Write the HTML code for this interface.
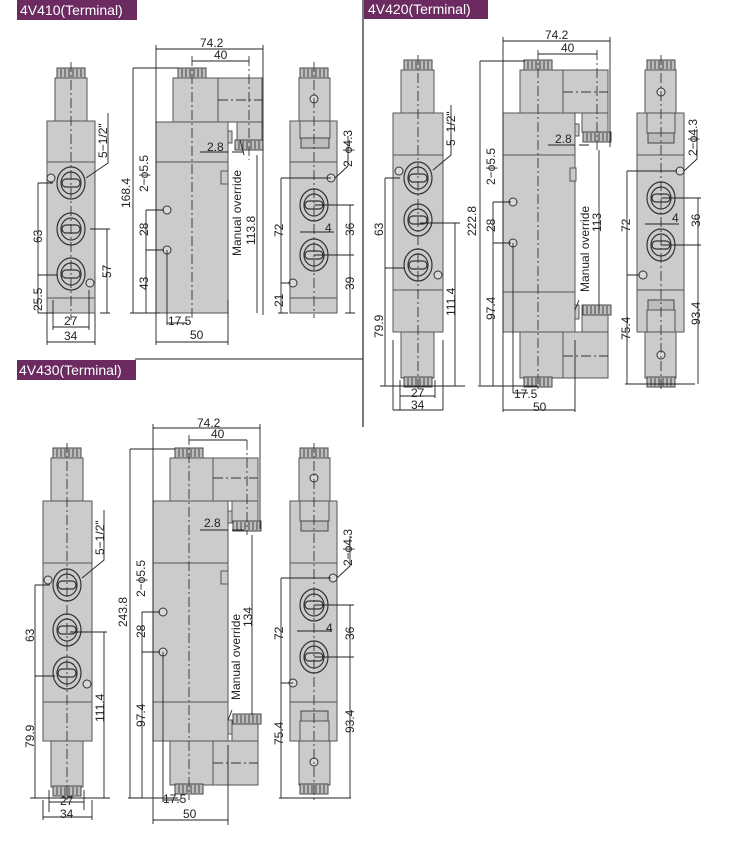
<!DOCTYPE html>
<html><head><meta charset="utf-8"><style>
body{margin:0;background:#fff}
svg{display:block}
.b{fill:#cbcbcb;stroke:#555;stroke-width:1}
.k{fill:#bdbdbd;stroke:#444;stroke-width:1}
.l{stroke:#222;stroke-width:0.9;fill:none}
.c{stroke:#333;stroke-width:0.9;fill:none;stroke-dasharray:10 3 2 3}
.p{fill:none;stroke:#333;stroke-width:1.2}
.h{fill:#d8d8d8;stroke:#333;stroke-width:1}
text{font-family:"Liberation Sans",sans-serif;font-size:12px;fill:#222}
.t{font-size:14px;fill:#fff}
</style></head><body>
<svg width="732" height="847" viewBox="0 0 732 847" xmlns="http://www.w3.org/2000/svg">
<defs>
<g id="port"><ellipse cx="0" cy="0" rx="14" ry="16" class="p"/><ellipse cx="0" cy="0" rx="10" ry="11" class="p"/><rect x="-9" y="-4" width="18" height="8" rx="4" class="p"/></g>
<g id="cap"><rect x="-14" y="0" width="28" height="10" class="k"/><path d="M-10 1v8M-6 1v8M-2 1v8M2 1v8M6 1v8M10 1v8" stroke="#444" stroke-width="1"/></g>
<g id="hole"><circle r="4" class="h"/></g>
</defs>

<!-- frame lines -->
<line x1="363" y1="0" x2="363" y2="427" stroke="#222" stroke-width="1.2"/>
<line x1="135" y1="359" x2="363" y2="359" stroke="#222" stroke-width="1"/>

<!-- titles -->
<rect x="17" y="0" width="120" height="20" fill="#6b2b61"/><text x="20" y="15" class="t">4V410(Terminal)</text>
<rect x="364" y="0" width="124" height="19" fill="#6b2b61"/><text x="368" y="14" class="t">4V420(Terminal)</text>
<rect x="17" y="360" width="119" height="20" fill="#6b2b61"/><text x="19" y="375" class="t">4V430(Terminal)</text>

<!-- ===== 4V410 ===== -->
<!-- left view -->
<use href="#cap" x="71" y="68"/>
<rect x="55" y="78" width="32" height="43" class="b"/>
<rect x="47" y="121" width="48" height="192" class="b"/>
<line x1="47" y1="162" x2="95" y2="162" stroke="#555"/>
<line x1="47" y1="298" x2="95" y2="298" stroke="#555"/>
<line x1="71" y1="62" x2="71" y2="320" class="c"/>
<use href="#port" x="71" y="183"/><use href="#port" x="71" y="229"/><use href="#port" x="71" y="274"/>
<use href="#hole" x="51" y="178"/><use href="#hole" x="90" y="283"/>
<path class="l" d="M38 183h15M38 313h15M38 275h20M38 183v130M107 229v84M90 229h20M100 313h10M53 300v30M89 290v40M47 313v32M95 313v32M53 327h36M47 342h48M86 178l22-15v-50"/>
<text transform="translate(42,243) rotate(-90)">63</text>
<text transform="translate(42,311) rotate(-90)">25.5</text>
<text transform="translate(111,278) rotate(-90)">57</text>
<text transform="translate(107,158) rotate(-90)">5−1/2"</text>
<text x="64" y="325">27</text><text x="64" y="340">34</text>

<!-- middle view -->
<use href="#cap" x="192" y="68"/>
<rect x="173" y="78" width="45" height="44" class="b"/>
<rect x="218" y="78" width="44" height="44" class="b"/>
<rect x="237" y="122" width="25" height="18" class="b"/>
<use href="#cap" x="249" y="140"/>
<rect x="156" y="122" width="72" height="191" class="b"/>
<line x1="156" y1="162" x2="228" y2="162" stroke="#555"/>
<rect x="228" y="131" width="4" height="12" class="b"/>
<rect x="221" y="171" width="7" height="13" class="b"/>
<line x1="192" y1="56" x2="192" y2="320" class="c"/>
<line x1="249" y1="56" x2="249" y2="160" class="c"/>
<line x1="218" y1="100" x2="262" y2="100" class="c"/>
<use href="#hole" x="167" y="210"/><use href="#hole" x="167" y="250"/>
<path class="l" d="M156 45v300M263 45v270M156 49h107M192 61h57M133 68v245M133 68h45M130 313h30M146 210h18M146 250h18M146 210v103M167 250v75M167 323h20M228 300v45M156 342h72M200 152h28M232 152h12M257 155v158M240 140l4 15"/>
<text x="200" y="47">74.2</text><text x="214" y="59">40</text>
<text transform="translate(130,208) rotate(-90)">168.4</text>
<text transform="translate(148,192) rotate(-90)">2−ϕ5.5</text>
<text transform="translate(148,236) rotate(-90)">28</text>
<text transform="translate(148,290) rotate(-90)">43</text>
<text x="168" y="325">17.5</text><text x="190" y="339">50</text>
<text x="207" y="151">2.8</text>
<text transform="translate(241,256) rotate(-90)">Manual override</text>
<text transform="translate(255,245) rotate(-90)">113.8</text>

<!-- right view -->
<use href="#cap" x="314" y="68"/>
<rect x="299" y="78" width="31" height="43" class="b"/>
<circle cx="314" cy="99" r="4" class="h"/>
<rect x="290" y="121" width="47" height="192" class="b"/>
<rect x="300" y="121" width="30" height="17" class="b"/>
<rect x="301" y="138" width="28" height="10" class="k"/>
<line x1="290" y1="162" x2="337" y2="162" stroke="#555"/>
<line x1="290" y1="298" x2="337" y2="298" stroke="#555"/>
<line x1="314" y1="62" x2="314" y2="318" class="c"/>
<use href="#port" x="314" y="205"/><use href="#port" x="314" y="255"/>
<use href="#hole" x="331" y="178"/><use href="#hole" x="293" y="283"/>
<path class="l" d="M281 178h50M281 178v135M281 283h10M278 313h10M350 205v108M314 205h40M314 255h40M345 313h10M300 232h34M335 178l13-12v-30"/>
<text transform="translate(283,237) rotate(-90)">72</text>
<text transform="translate(283,307) rotate(-90)">21</text>
<text transform="translate(354,236) rotate(-90)">36</text>
<text transform="translate(354,290) rotate(-90)">39</text>
<text x="325" y="232">4</text>
<text transform="translate(352,167) rotate(-90)">2−ϕ4.3</text>

<!-- ===== 4V420 ===== -->
<!-- left -->
<use href="#cap" x="418" y="60"/>
<rect x="401" y="70" width="33" height="43" class="b"/>
<rect x="393" y="113" width="50" height="219" class="b"/>
<line x1="393" y1="155" x2="443" y2="155" stroke="#555"/>
<line x1="393" y1="290" x2="443" y2="290" stroke="#555"/>
<rect x="401" y="332" width="33" height="46" class="b"/>
<use href="#cap" x="418" y="377"/>
<line x1="418" y1="55" x2="418" y2="392" class="c"/>
<use href="#port" x="418" y="178"/><use href="#port" x="418" y="220"/><use href="#port" x="418" y="265"/>
<use href="#hole" x="399" y="171"/><use href="#hole" x="438" y="275"/>
<path class="l" d="M385 178h15M385 178v208M385 268h20M455 223v163M420 223h40M380 386h85M400 380v30M435 380v18M393 340v70M443 340v70M400 396h35M393 410h50M433 170l18-15v-50"/>
<text transform="translate(383,236) rotate(-90)">63</text>
<text transform="translate(383,338) rotate(-90)">79.9</text>
<text transform="translate(455,316) rotate(-90)">111.4</text>
<text transform="translate(455,146) rotate(-90)">5−1/2"</text>
<text x="411" y="397">27</text><text x="411" y="409">34</text>

<!-- middle -->
<use href="#cap" x="538" y="60"/>
<rect x="520" y="70" width="43" height="43" class="b"/>
<rect x="563" y="70" width="45" height="43" class="b"/>
<rect x="582" y="113" width="26" height="19" class="b"/>
<use href="#cap" x="597" y="132"/>
<rect x="503" y="113" width="72" height="219" class="b"/>
<line x1="503" y1="155" x2="575" y2="155" stroke="#555"/>
<line x1="503" y1="292" x2="575" y2="292" stroke="#555"/>
<rect x="575" y="124" width="4" height="12" class="b"/>
<rect x="570" y="168" width="6" height="13" class="b"/>
<rect x="575" y="305" width="4" height="14" class="b"/>
<rect x="582" y="305" width="26" height="27" class="b"/>
<use href="#cap" x="597" y="305"/>
<rect x="520" y="332" width="43" height="46" class="b"/>
<rect x="563" y="332" width="45" height="46" class="b"/>
<use href="#cap" x="538" y="377"/>
<line x1="538" y1="50" x2="538" y2="392" class="c"/>
<line x1="597" y1="50" x2="597" y2="150" class="c"/>
<line x1="563" y1="92" x2="608" y2="92" class="c"/>
<line x1="563" y1="356" x2="608" y2="356" class="c"/>
<use href="#hole" x="513" y="202"/><use href="#hole" x="513" y="243"/>
<path class="l" d="M503 37v375M610 37v110M503 41h107M538 54h59M480 61v324M480 61h45M478 386h60M493 202h18M493 243h18M493 202v184M513 243v150M513 393h15M575 340v72M503 410h72M548 145h27M579 145h10M599 150v160M575 310l4-10"/>
<text x="545" y="39">74.2</text><text x="561" y="52">40</text>
<text transform="translate(476,236) rotate(-90)">222.8</text>
<text transform="translate(495,185) rotate(-90)">2−ϕ5.5</text>
<text transform="translate(495,232) rotate(-90)">28</text>
<text transform="translate(495,320) rotate(-90)">97.4</text>
<text x="514" y="398">17.5</text><text x="533" y="411">50</text>
<text x="555" y="143">2.8</text>
<text transform="translate(589,292) rotate(-90)">Manual override</text>
<text transform="translate(601,232) rotate(-90)">113</text>

<!-- right -->
<use href="#cap" x="661" y="60"/>
<rect x="645" y="70" width="31" height="43" class="b"/>
<circle cx="661" cy="92" r="4" class="h"/>
<rect x="637" y="113" width="47" height="219" class="b"/>
<rect x="647" y="113" width="28" height="20" class="b"/>
<rect x="648" y="133" width="26" height="10" class="k"/>
<line x1="637" y1="155" x2="684" y2="155" stroke="#555"/>
<line x1="637" y1="290" x2="684" y2="290" stroke="#555"/>
<rect x="648" y="300" width="26" height="10" class="k"/>
<rect x="647" y="310" width="28" height="22" class="b"/>
<rect x="645" y="332" width="31" height="46" class="b"/>
<circle cx="661" cy="355" r="4" class="h"/>
<use href="#cap" x="661" y="377"/>
<line x1="661" y1="55" x2="661" y2="392" class="c"/>
<use href="#port" x="661" y="198"/><use href="#port" x="661" y="245"/>
<use href="#hole" x="680" y="171"/><use href="#hole" x="643" y="275"/>
<path class="l" d="M627 171h50M627 171v213M627 275h12M625 384h70M698 198v186M661 198h40M661 245h40M645 224h34M684 171l13-12v-30"/>
<text transform="translate(630,232) rotate(-90)">72</text>
<text transform="translate(630,340) rotate(-90)">75.4</text>
<text transform="translate(700,227) rotate(-90)">36</text>
<text transform="translate(700,325) rotate(-90)">93.4</text>
<text x="672" y="222">4</text>
<text transform="translate(697,156) rotate(-90)">2−ϕ4.3</text>

<!-- ===== 4V430 ===== -->
<!-- left -->
<use href="#cap" x="67" y="448"/>
<rect x="51" y="458" width="32" height="43" class="b"/>
<rect x="43" y="501" width="49" height="240" class="b"/>
<line x1="43" y1="563" x2="92" y2="563" stroke="#555"/>
<line x1="43" y1="702" x2="92" y2="702" stroke="#555"/>
<rect x="51" y="741" width="32" height="46" class="b"/>
<use href="#cap" x="67" y="786"/>
<line x1="67" y1="443" x2="67" y2="800" class="c"/>
<use href="#port" x="67" y="585"/><use href="#port" x="67" y="630"/><use href="#port" x="67" y="673"/>
<use href="#hole" x="48" y="580"/><use href="#hole" x="87" y="684"/>
<path class="l" d="M35 585h15M35 585v213M35 676h20M104 632v166M70 632h37M30 798h80M49 790v22M84 790v20M43 800v20M92 800v20M49 802h35M43 817h49M82 578l22-18v-50"/>
<text transform="translate(34,642) rotate(-90)">63</text>
<text transform="translate(34,748) rotate(-90)">79.9</text>
<text transform="translate(104,722) rotate(-90)">111.4</text>
<text transform="translate(104,555) rotate(-90)">5−1/2"</text>
<text x="60" y="805">27</text><text x="60" y="818">34</text>

<!-- middle -->
<use href="#cap" x="189" y="448"/>
<rect x="170" y="458" width="43" height="43" class="b"/>
<rect x="213" y="458" width="45" height="43" class="b"/>
<rect x="232" y="501" width="26" height="20" class="b"/>
<use href="#cap" x="247" y="521"/>
<rect x="153" y="501" width="75" height="240" class="b"/>
<line x1="153" y1="563" x2="228" y2="563" stroke="#555"/>
<line x1="153" y1="702" x2="228" y2="702" stroke="#555"/>
<rect x="228" y="511" width="4" height="12" class="b"/>
<rect x="221" y="571" width="7" height="13" class="b"/>
<rect x="228" y="720" width="4" height="14" class="b"/>
<rect x="232" y="721" width="26" height="20" class="b"/>
<use href="#cap" x="247" y="714"/>
<rect x="170" y="741" width="43" height="44" class="b"/>
<rect x="213" y="741" width="45" height="44" class="b"/>
<use href="#cap" x="189" y="784"/>
<line x1="189" y1="435" x2="189" y2="800" class="c"/>
<line x1="247" y1="440" x2="247" y2="535" class="c"/>
<line x1="213" y1="478" x2="258" y2="478" stroke-dasharray="10 3 2 3" stroke="#333"/>
<line x1="213" y1="763" x2="258" y2="763" stroke-dasharray="10 3 2 3" stroke="#333"/>
<use href="#hole" x="163" y="612"/><use href="#hole" x="163" y="652"/>
<path class="l" d="M153 424v400M260 424v105M153 428h107M189 440h58M130 449v349M130 449h45M128 798h50M142 612h18M142 652h18M142 612v186M163 652v150M163 800h18M228 745v80M153 820h75M200 530h28M232 530h12M252 535v180M228 720l4-10"/>
<text x="197" y="427">74.2</text><text x="211" y="438">40</text>
<text transform="translate(127,627) rotate(-90)">243.8</text>
<text transform="translate(145,597) rotate(-90)">2−ϕ5.5</text>
<text transform="translate(145,638) rotate(-90)">28</text>
<text transform="translate(145,727) rotate(-90)">97.4</text>
<text x="163" y="803">17.5</text><text x="183" y="818">50</text>
<text x="204" y="527">2.8</text>
<text transform="translate(240,700) rotate(-90)">Manual override</text>
<text transform="translate(252,627) rotate(-90)">134</text>

<!-- right -->
<use href="#cap" x="314" y="448"/>
<rect x="299" y="458" width="31" height="43" class="b"/>
<circle cx="314" cy="478" r="4" class="h"/>
<rect x="290" y="501" width="47" height="240" class="b"/>
<rect x="300" y="501" width="29" height="20" class="b"/>
<rect x="301" y="521" width="27" height="10" class="k"/>
<line x1="290" y1="563" x2="337" y2="563" stroke="#555"/>
<line x1="290" y1="702" x2="337" y2="702" stroke="#555"/>
<rect x="301" y="711" width="27" height="10" class="k"/>
<rect x="300" y="721" width="29" height="20" class="b"/>
<rect x="299" y="741" width="31" height="44" class="b"/>
<circle cx="314" cy="762" r="4" class="h"/>
<use href="#cap" x="314" y="784"/>
<line x1="314" y1="443" x2="314" y2="800" class="c"/>
<use href="#port" x="314" y="605"/><use href="#port" x="314" y="657"/>
<use href="#hole" x="333" y="578"/><use href="#hole" x="293" y="683"/>
<path class="l" d="M281 578h50M281 578v220M281 683h12M279 798h72M350 605v193M314 605h40M314 657h40M297 631h35M337 578l13-12v-30"/>
<text transform="translate(283,640) rotate(-90)">72</text>
<text transform="translate(283,745) rotate(-90)">75.4</text>
<text transform="translate(354,640) rotate(-90)">36</text>
<text transform="translate(354,733) rotate(-90)">93.4</text>
<text x="326" y="632">4</text>
<text transform="translate(352,566) rotate(-90)">2−ϕ4.3</text>
</svg>
</body></html>
